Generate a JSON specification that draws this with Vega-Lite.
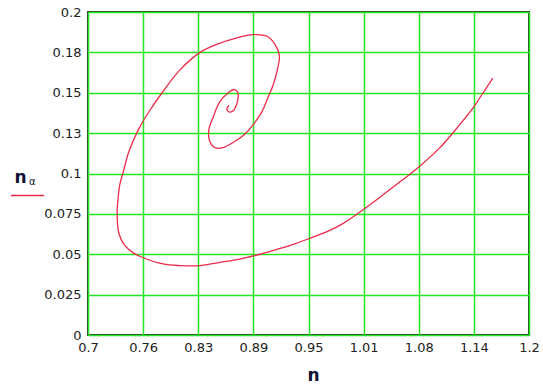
{
  "$schema": "https://vega.github.io/schema/vega-lite/v6.json",
  "width": 441,
  "height": 323,
  "autosize": {"type": "none"},
  "padding": {"left": 88, "top": 12, "right": 14, "bottom": 52},
  "background": "white",
  "config": {
    "font": "DejaVu Sans",
    "view": {"stroke": "#333333", "strokeWidth": 2}
  },
  "data": {
    "values": [
      {"i": 0, "n": 1.159, "na": 0.159},
      {"i": 1, "n": 1.148, "na": 0.150},
      {"i": 2, "n": 1.137, "na": 0.141},
      {"i": 3, "n": 1.115, "na": 0.126},
      {"i": 4, "n": 1.099, "na": 0.116},
      {"i": 5, "n": 1.075, "na": 0.104},
      {"i": 6, "n": 1.059, "na": 0.097},
      {"i": 7, "n": 1.042, "na": 0.090},
      {"i": 8, "n": 1.028, "na": 0.084},
      {"i": 9, "n": 1.008, "na": 0.076},
      {"i": 10, "n": 0.989, "na": 0.069},
      {"i": 11, "n": 0.971, "na": 0.064},
      {"i": 12, "n": 0.952, "na": 0.060},
      {"i": 13, "n": 0.932, "na": 0.056},
      {"i": 14, "n": 0.914, "na": 0.053},
      {"i": 15, "n": 0.895, "na": 0.050},
      {"i": 16, "n": 0.872, "na": 0.047},
      {"i": 17, "n": 0.850, "na": 0.045},
      {"i": 18, "n": 0.827, "na": 0.043},
      {"i": 19, "n": 0.804, "na": 0.043},
      {"i": 20, "n": 0.785, "na": 0.044},
      {"i": 21, "n": 0.762, "na": 0.048},
      {"i": 22, "n": 0.751, "na": 0.051},
      {"i": 23, "n": 0.741, "na": 0.056},
      {"i": 24, "n": 0.735, "na": 0.063},
      {"i": 25, "n": 0.733, "na": 0.076},
      {"i": 26, "n": 0.734, "na": 0.084},
      {"i": 27, "n": 0.736, "na": 0.093},
      {"i": 28, "n": 0.740, "na": 0.101},
      {"i": 29, "n": 0.746, "na": 0.113},
      {"i": 30, "n": 0.757, "na": 0.127},
      {"i": 31, "n": 0.770, "na": 0.139},
      {"i": 32, "n": 0.784, "na": 0.150},
      {"i": 33, "n": 0.804, "na": 0.164},
      {"i": 34, "n": 0.827, "na": 0.175},
      {"i": 35, "n": 0.846, "na": 0.180},
      {"i": 36, "n": 0.869, "na": 0.184},
      {"i": 37, "n": 0.887, "na": 0.186},
      {"i": 38, "n": 0.903, "na": 0.185},
      {"i": 39, "n": 0.912, "na": 0.180},
      {"i": 40, "n": 0.917, "na": 0.173},
      {"i": 41, "n": 0.915, "na": 0.165},
      {"i": 42, "n": 0.910, "na": 0.155},
      {"i": 43, "n": 0.904, "na": 0.147},
      {"i": 44, "n": 0.897, "na": 0.138},
      {"i": 45, "n": 0.887, "na": 0.130},
      {"i": 46, "n": 0.877, "na": 0.124},
      {"i": 47, "n": 0.864, "na": 0.119},
      {"i": 48, "n": 0.853, "na": 0.116},
      {"i": 49, "n": 0.844, "na": 0.116},
      {"i": 50, "n": 0.838, "na": 0.120},
      {"i": 51, "n": 0.837, "na": 0.127},
      {"i": 52, "n": 0.842, "na": 0.135},
      {"i": 53, "n": 0.849, "na": 0.144},
      {"i": 54, "n": 0.859, "na": 0.150},
      {"i": 55, "n": 0.866, "na": 0.152},
      {"i": 56, "n": 0.870, "na": 0.150},
      {"i": 57, "n": 0.870, "na": 0.146},
      {"i": 58, "n": 0.868, "na": 0.142},
      {"i": 59, "n": 0.865, "na": 0.139},
      {"i": 60, "n": 0.861, "na": 0.138},
      {"i": 61, "n": 0.858, "na": 0.139},
      {"i": 62, "n": 0.858, "na": 0.141},
      {"i": 63, "n": 0.860, "na": 0.142}
    ]
  },
  "mark": {"type": "line", "strokeWidth": 1.3, "clip": true, "interpolate": "catmull-rom"},
  "encoding": {
    "x": {
      "field": "n",
      "type": "quantitative",
      "scale": {"domain": [0.7, 1.2], "nice": false, "zero": false},
      "axis": {
        "title": "n",
        "titleFontSize": 17,
        "titleFontWeight": "bold",
        "titleColor": "#111133",
        "titleX": 225,
        "titleY": 45,
        "titleBaseline": "alphabetic",
        "values": [0.7, 0.7625, 0.825, 0.8875, 0.95, 1.0125, 1.075, 1.1375, 1.2],
        "labelExpr": "format(datum.value + 1e-9, '.2~f')",
        "labelFontSize": 13,
        "labelColor": "#222222",
        "labelPadding": 6,
        "labelOverlap": false,
        "labelFlush": false,
        "ticks": false,
        "tickSize": 0,
        "domain": false,
        "grid": true,
        "gridColor": "#22e622",
        "gridWidth": 1.5,
        "gridOpacity": 1
      }
    },
    "y": {
      "field": "na",
      "type": "quantitative",
      "scale": {"domain": [0, 0.2], "nice": false},
      "axis": {
        "title": "n",
        "titleAngle": 0,
        "titleFontSize": 17,
        "titleFontWeight": "bold",
        "titleColor": "#111133",
        "titleX": -68,
        "titleY": 170,
        "titleAlign": "center",
        "titleBaseline": "alphabetic",
        "values": [0, 0.025, 0.05, 0.075, 0.1, 0.125, 0.15, 0.175, 0.2],
        "labelExpr": "datum.value == 0 ? '0' : format(datum.value + 1e-9, '.2~r')",
        "labelFontSize": 13,
        "labelColor": "#222222",
        "labelPadding": 7,
        "labelOverlap": false,
        "labelFlush": false,
        "ticks": false,
        "tickSize": 0,
        "domain": false,
        "grid": true,
        "gridColor": "#22e622",
        "gridWidth": 1.5,
        "gridOpacity": 1
      }
    },
    "order": {"field": "i", "type": "quantitative"},
    "color": {
      "datum": "trace",
      "scale": {"range": ["#ee2a4a"]},
      "legend": {
        "orient": "none",
        "legendX": -59,
        "legendY": 165,
        "padding": 0,
        "title": "α",
        "titleFontSize": 10,
        "titleFontWeight": "normal",
        "titleColor": "#111133",
        "titlePadding": -9,
        "symbolType": "stroke",
        "symbolSize": 1100,
        "symbolStrokeWidth": 1.5,
        "symbolOffset": -19,
        "labelExpr": "''"
      }
    }
  }
}
